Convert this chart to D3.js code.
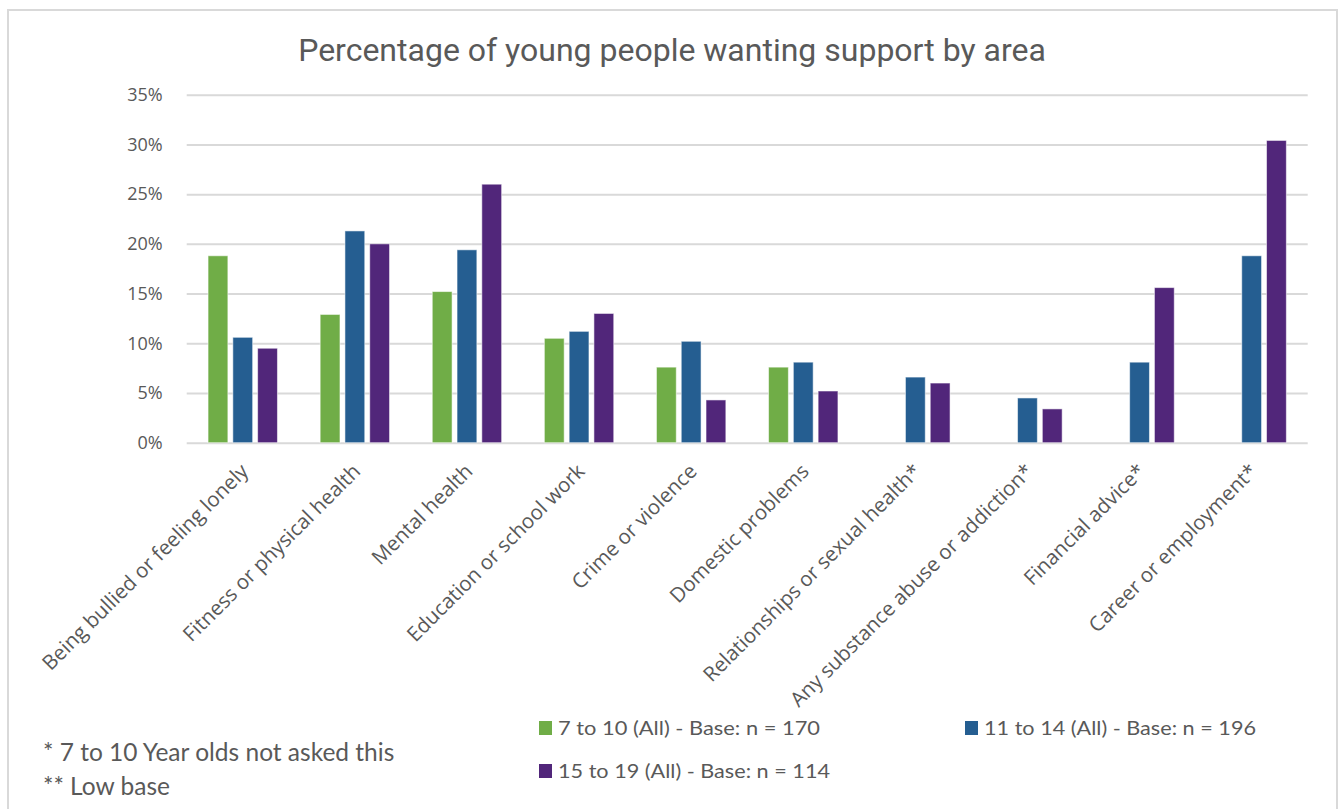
<!DOCTYPE html>
<html>
<head>
<meta charset="utf-8">
<script src="https://cdn.jsdelivr.net/npm/d3@7"></script>
<style>
  html, body { margin: 0; padding: 0; background: #fff; }
  svg { display: block; }
</style>
</head>
<body>
<svg id="chart" width="1341" height="809"></svg>
<script>
// Support areas asked about in the survey
const categories = [
  "Being bullied or feeling lonely",
  "Fitness or physical health",
  "Mental health",
  "Education or school work",
  "Crime or violence",
  "Domestic problems",
  "Relationships or sexual health*",
  "Any substance abuse or addiction*",
  "Financial advice*",
  "Career or employment*"
];

// Share (%) of each age group wanting support; null = not asked
const age7to10  = [18.8, 12.9, 15.2, 10.5, 7.6, 7.6, null, null, null, null];
const age11to14 = [10.6, 21.3, 19.4, 11.2, 10.2, 8.1, 6.6, 4.5, 8.1, 18.8];
const age15to19 = [9.5, 20.0, 26.0, 13.0, 4.3, 5.2, 6.0, 3.4, 15.6, 30.4];

const seriesNames = [
  "7 to 10 (All) - Base: n = 170",
  "11 to 14 (All) - Base: n = 196",
  "15 to 19 (All) - Base: n = 114"
];
const seriesColors = ["#70AD47", "#255E91", "#51267A"];

const yTicks = [0, 5, 10, 15, 20, 25, 30, 35];

const footnotes = ["* 7 to 10 Year olds not asked this", "** Low base"];
const title = "Percentage of young people wanting support by area";

const series = [age7to10, age11to14, age15to19];

const svg = d3.select("#chart");
const textColor = "#595959";

// Chart frame
svg.append("rect")
  .attr("x", 8).attr("y", 10)
  .attr("width", 1329).attr("height", 820)
  .attr("fill", "#fff")
  .attr("stroke", "#D9D9D9")
  .attr("stroke-width", 2);

// Title
svg.append("text")
  .attr("x", 672).attr("y", 61)
  .attr("text-anchor", "middle")
  .attr("font-family", "Roboto, sans-serif")
  .attr("font-size", 32)
  .attr("fill", textColor)
  .text(title);

const plot = { left: 186.7, right: 1307.7, top: 94.7, bottom: 442.7 };

const x = d3.scaleBand()
  .domain(categories)
  .range([plot.left, plot.right])
  .padding(0);

const groupWidth = 69.4;
const xSeries = d3.scaleBand()
  .domain(d3.range(series.length))
  .range([(x.bandwidth() - groupWidth) / 2, (x.bandwidth() + groupWidth) / 2])
  .paddingInner(0.2)
  .paddingOuter(0);

const y = d3.scaleLinear()
  .domain([0, 35])
  .range([plot.bottom, plot.top]);

// Gridlines and y tick labels
const yAxis = d3.axisLeft(y)
  .tickValues(yTicks)
  .tickSize(-(plot.right - plot.left))
  .tickPadding(24)
  .tickFormat(d => d + "%");

const gy = svg.append("g")
  .attr("transform", `translate(${plot.left},0)`)
  .call(yAxis);
gy.select(".domain").remove();
gy.selectAll(".tick line")
  .attr("stroke", "#D9D9D9")
  .attr("stroke-width", 2);
gy.selectAll(".tick text")
  .attr("font-family", "'Open Sans', sans-serif")
  .attr("font-size", 18)
  .attr("fill", textColor);

// Bars
const rows = [];
categories.forEach((c, i) => {
  series.forEach((s, j) => {
    if (s[i] != null) rows.push({ cat: c, s: j, v: s[i] });
  });
});

svg.append("g")
  .selectAll("rect")
  .data(rows)
  .join("rect")
  .attr("x", d => x(d.cat) + xSeries(d.s))
  .attr("y", d => y(d.v))
  .attr("width", xSeries.bandwidth())
  .attr("height", d => y(0) - y(d.v))
  .attr("fill", d => seriesColors[d.s])
  .attr("stroke", "#fff")
  .attr("stroke-opacity", 0.55)
  .attr("stroke-width", 1);

// Category labels, rotated
const xAxis = d3.axisBottom(x).tickSize(0).tickPadding(0);
const gx = svg.append("g")
  .attr("transform", `translate(0,${plot.bottom})`)
  .call(xAxis);
gx.select(".domain").remove();
gx.selectAll(".tick text")
  .attr("font-family", "'Open Sans', sans-serif")
  .attr("font-size", 20.5)
  .attr("fill", textColor)
  .attr("text-anchor", "end")
  .attr("x", 0).attr("y", 0)
  .attr("dy", "0.75em")
  .attr("transform", "translate(-4,19) rotate(-45)");

// Legend
const legendItems = [
  { x: 539, y: 728 },
  { x: 965, y: 728 },
  { x: 539, y: 771 }
];
const lg = svg.append("g");
seriesNames.forEach((name, i) => {
  const p = legendItems[i];
  lg.append("rect")
    .attr("x", p.x).attr("y", p.y - 7)
    .attr("width", 13).attr("height", 14)
    .attr("fill", seriesColors[i]);
  lg.append("text")
    .attr("x", p.x + 19).attr("y", p.y)
    .attr("dy", "0.35em")
    .attr("font-family", "Lato, sans-serif")
    .attr("font-size", 20)
    .attr("fill", textColor)
    .attr("textLength", i === 0 ? 262 : 272)
    .attr("lengthAdjust", "spacingAndGlyphs")
    .text(name);
});

// Footnotes
footnotes.forEach((t, i) => {
  svg.append("text")
    .attr("x", 43).attr("y", 752 + i * 34)
    .attr("dy", "0.35em")
    .attr("font-family", "Lato, sans-serif")
    .attr("font-size", 24.5)
    .attr("fill", textColor)
    .text(t);
});
</script>
</body>
</html>
